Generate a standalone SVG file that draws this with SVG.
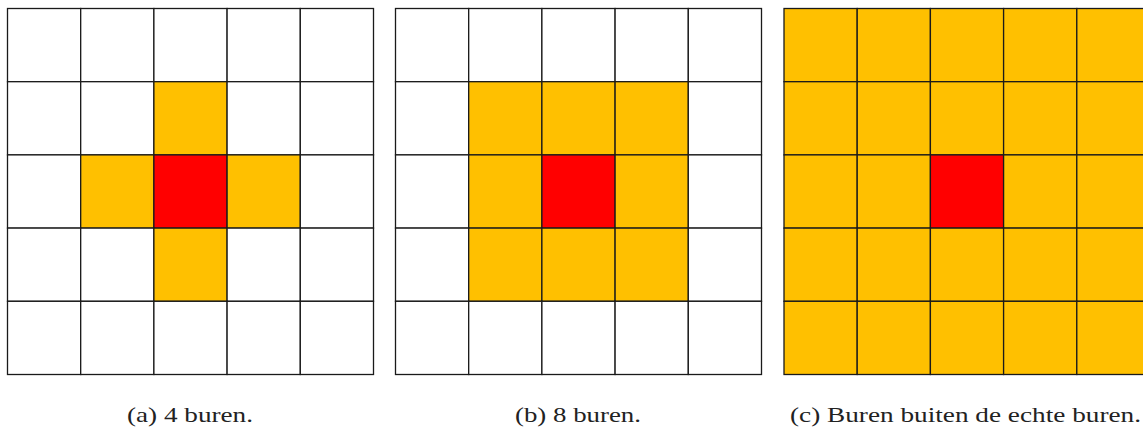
<svg xmlns="http://www.w3.org/2000/svg" width="1143" height="430" viewBox="0 0 1143 430">
<style>
.c{fill:#fff;stroke:#1a1a1a;stroke-width:1.3}
.o{fill:#FFC000;stroke:#1a1a1a;stroke-width:1.3}
.r{fill:#FF0000;stroke:#1a1a1a;stroke-width:1.3}
.cap{font-family:"Liberation Serif","DejaVu Serif",serif;font-size:21px;fill:#222}
</style>
<g id="grid-a" transform="translate(7.5,8.5)">
<rect class="c" x="0" y="0" width="73.2" height="73.2"/><rect class="c" x="73.2" y="0" width="73.2" height="73.2"/><rect class="c" x="146.4" y="0" width="73.2" height="73.2"/><rect class="c" x="219.6" y="0" width="73.2" height="73.2"/><rect class="c" x="292.8" y="0" width="73.2" height="73.2"/>
<rect class="c" x="0" y="73.2" width="73.2" height="73.2"/><rect class="c" x="73.2" y="73.2" width="73.2" height="73.2"/><rect class="o" x="146.4" y="73.2" width="73.2" height="73.2"/><rect class="c" x="219.6" y="73.2" width="73.2" height="73.2"/><rect class="c" x="292.8" y="73.2" width="73.2" height="73.2"/>
<rect class="c" x="0" y="146.4" width="73.2" height="73.2"/><rect class="o" x="73.2" y="146.4" width="73.2" height="73.2"/><rect class="r" x="146.4" y="146.4" width="73.2" height="73.2"/><rect class="o" x="219.6" y="146.4" width="73.2" height="73.2"/><rect class="c" x="292.8" y="146.4" width="73.2" height="73.2"/>
<rect class="c" x="0" y="219.6" width="73.2" height="73.2"/><rect class="c" x="73.2" y="219.6" width="73.2" height="73.2"/><rect class="o" x="146.4" y="219.6" width="73.2" height="73.2"/><rect class="c" x="219.6" y="219.6" width="73.2" height="73.2"/><rect class="c" x="292.8" y="219.6" width="73.2" height="73.2"/>
<rect class="c" x="0" y="292.8" width="73.2" height="73.2"/><rect class="c" x="73.2" y="292.8" width="73.2" height="73.2"/><rect class="c" x="146.4" y="292.8" width="73.2" height="73.2"/><rect class="c" x="219.6" y="292.8" width="73.2" height="73.2"/><rect class="c" x="292.8" y="292.8" width="73.2" height="73.2"/>
</g>
<g id="grid-b" transform="translate(395.5,8.5)">
<rect class="c" x="0" y="0" width="73.2" height="73.2"/><rect class="c" x="73.2" y="0" width="73.2" height="73.2"/><rect class="c" x="146.4" y="0" width="73.2" height="73.2"/><rect class="c" x="219.6" y="0" width="73.2" height="73.2"/><rect class="c" x="292.8" y="0" width="73.2" height="73.2"/>
<rect class="c" x="0" y="73.2" width="73.2" height="73.2"/><rect class="o" x="73.2" y="73.2" width="73.2" height="73.2"/><rect class="o" x="146.4" y="73.2" width="73.2" height="73.2"/><rect class="o" x="219.6" y="73.2" width="73.2" height="73.2"/><rect class="c" x="292.8" y="73.2" width="73.2" height="73.2"/>
<rect class="c" x="0" y="146.4" width="73.2" height="73.2"/><rect class="o" x="73.2" y="146.4" width="73.2" height="73.2"/><rect class="r" x="146.4" y="146.4" width="73.2" height="73.2"/><rect class="o" x="219.6" y="146.4" width="73.2" height="73.2"/><rect class="c" x="292.8" y="146.4" width="73.2" height="73.2"/>
<rect class="c" x="0" y="219.6" width="73.2" height="73.2"/><rect class="o" x="73.2" y="219.6" width="73.2" height="73.2"/><rect class="o" x="146.4" y="219.6" width="73.2" height="73.2"/><rect class="o" x="219.6" y="219.6" width="73.2" height="73.2"/><rect class="c" x="292.8" y="219.6" width="73.2" height="73.2"/>
<rect class="c" x="0" y="292.8" width="73.2" height="73.2"/><rect class="c" x="73.2" y="292.8" width="73.2" height="73.2"/><rect class="c" x="146.4" y="292.8" width="73.2" height="73.2"/><rect class="c" x="219.6" y="292.8" width="73.2" height="73.2"/><rect class="c" x="292.8" y="292.8" width="73.2" height="73.2"/>
</g>
<g id="grid-c" transform="translate(784,8.5)">
<rect class="o" x="0" y="0" width="73.2" height="73.2"/><rect class="o" x="73.2" y="0" width="73.2" height="73.2"/><rect class="o" x="146.4" y="0" width="73.2" height="73.2"/><rect class="o" x="219.6" y="0" width="73.2" height="73.2"/><rect class="o" x="292.8" y="0" width="73.2" height="73.2"/>
<rect class="o" x="0" y="73.2" width="73.2" height="73.2"/><rect class="o" x="73.2" y="73.2" width="73.2" height="73.2"/><rect class="o" x="146.4" y="73.2" width="73.2" height="73.2"/><rect class="o" x="219.6" y="73.2" width="73.2" height="73.2"/><rect class="o" x="292.8" y="73.2" width="73.2" height="73.2"/>
<rect class="o" x="0" y="146.4" width="73.2" height="73.2"/><rect class="o" x="73.2" y="146.4" width="73.2" height="73.2"/><rect class="r" x="146.4" y="146.4" width="73.2" height="73.2"/><rect class="o" x="219.6" y="146.4" width="73.2" height="73.2"/><rect class="o" x="292.8" y="146.4" width="73.2" height="73.2"/>
<rect class="o" x="0" y="219.6" width="73.2" height="73.2"/><rect class="o" x="73.2" y="219.6" width="73.2" height="73.2"/><rect class="o" x="146.4" y="219.6" width="73.2" height="73.2"/><rect class="o" x="219.6" y="219.6" width="73.2" height="73.2"/><rect class="o" x="292.8" y="219.6" width="73.2" height="73.2"/>
<rect class="o" x="0" y="292.8" width="73.2" height="73.2"/><rect class="o" x="73.2" y="292.8" width="73.2" height="73.2"/><rect class="o" x="146.4" y="292.8" width="73.2" height="73.2"/><rect class="o" x="219.6" y="292.8" width="73.2" height="73.2"/><rect class="o" x="292.8" y="292.8" width="73.2" height="73.2"/>
</g>
<g id="captions">
<text class="cap" x="127" y="422" textLength="126" lengthAdjust="spacingAndGlyphs">(a) 4 buren.</text>
<text class="cap" x="515" y="422" textLength="126" lengthAdjust="spacingAndGlyphs">(b) 8 buren.</text>
<text class="cap" x="790" y="422" textLength="351" lengthAdjust="spacingAndGlyphs">(c) Buren buiten de echte buren.</text>
</g>
</svg>
